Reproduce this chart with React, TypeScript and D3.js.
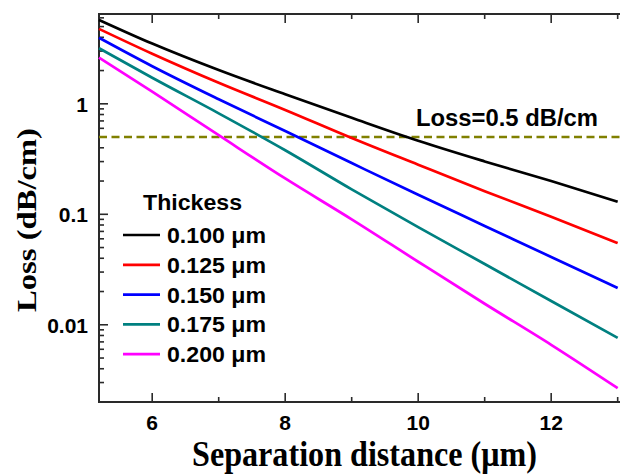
import React, { useRef, useEffect } from "react";
import * as d3 from "d3";

// separation distance (µm)
const distances = [5.2, 6, 7, 8, 9, 10, 11, 12, 13];
// loss (dB/cm) for each thickness
const loss100 = [5.75, 3.51, 2.02, 1.22, 0.747, 0.463, 0.301, 0.2, 0.13];
const loss125 = [4.77, 2.84, 1.55, 0.88, 0.49, 0.281, 0.162, 0.095, 0.0549];
const loss150 = [3.96, 2.19, 1.1, 0.567, 0.291, 0.15, 0.0785, 0.0411, 0.0215];
const loss175 = [3.19, 1.72, 0.82, 0.38, 0.168, 0.0765, 0.0355, 0.0164, 0.0076];
const loss200 = [2.62, 1.29, 0.52, 0.211, 0.09, 0.0372, 0.0155, 0.00659, 0.00267];

const seriesNames = ["0.100 \u03bcm", "0.125 \u03bcm", "0.150 \u03bcm", "0.175 \u03bcm", "0.200 \u03bcm"];
const seriesColors = ["#000000", "#ff0000", "#0000ff", "#008080", "#ff00ff"];
const seriesValues = [loss100, loss125, loss150, loss175, loss200];

const xMajorTicks = [6, 8, 10, 12];
const xMinorTicks = [7, 9, 11, 13];
const yMajorTicks = [0.01, 0.1, 1];
const yTickLabels = ["0.01", "0.1", "1"];
const lossLimit = 0.5;

const SANS = "'Liberation Sans', Arial, sans-serif";
const SERIF = "'Liberation Serif', 'Times New Roman', serif";

const LossChart = () => {
  const svgRef = useRef<SVGSVGElement>(null);

  useEffect(() => {
    const svg = d3.select(svgRef.current);
    svg.selectAll("*").remove();

    const left = 99, top = 14, bottom = 402, right = 621;

    const x = d3.scaleLinear().domain([5.2, 13.05]).range([left, right]);
    const y = d3.scaleLog().domain([0.002, 6.5]).range([bottom, top]);

    const axisColor = "#2a2a2a";

    // ticks (inward)
    const ticks = svg.append("g").attr("stroke", axisColor).attr("stroke-width", 1.6);
    xMajorTicks.concat(xMinorTicks).forEach((t) => {
      const len = xMajorTicks.includes(t) ? 9 : 5;
      ticks.append("line").attr("x1", x(t)).attr("x2", x(t)).attr("y1", bottom).attr("y2", bottom - len);
      ticks.append("line").attr("x1", x(t)).attr("x2", x(t)).attr("y1", top).attr("y2", top + len);
    });
    y.ticks().forEach((t) => {
      const major = yMajorTicks.some((m) => Math.abs(m - t) < 1e-9);
      const len = major ? 9 : 5;
      ticks.append("line").attr("x1", left).attr("x2", left + len).attr("y1", y(t)).attr("y2", y(t));
    });

    // frame
    svg
      .append("path")
      .attr("d", `M${right},${top}H${left}V${bottom}H${right}`)
      .attr("fill", "none")
      .attr("stroke", axisColor)
      .attr("stroke-width", 2);

    // tick labels
    svg
      .append("g")
      .selectAll("text")
      .data(xMajorTicks)
      .join("text")
      .attr("x", (d) => x(d))
      .attr("y", 430)
      .attr("text-anchor", "middle")
      .style("font-family", SANS)
      .style("font-weight", "bold")
      .style("font-size", "21px")
      .text((d) => d);

    svg
      .append("g")
      .selectAll("text")
      .data(yMajorTicks)
      .join("text")
      .attr("x", 88)
      .attr("y", (d) => y(d) + 8)
      .attr("text-anchor", "end")
      .style("font-family", SANS)
      .style("font-weight", "bold")
      .style("font-size", "21px")
      .text((d, i) => yTickLabels[i]);

    // threshold line
    svg
      .append("line")
      .attr("x1", left)
      .attr("x2", right)
      .attr("y1", y(lossLimit))
      .attr("y2", y(lossLimit))
      .attr("stroke", "#808000")
      .attr("stroke-width", 2.6)
      .attr("stroke-dasharray", "8,4.5");

    svg
      .append("text")
      .attr("x", 416)
      .attr("y", 126)
      .style("font-family", SANS)
      .style("font-weight", "bold")
      .style("font-size", "23px")
      .attr("textLength", 182)
      .attr("lengthAdjust", "spacingAndGlyphs")
      .text("Loss=0.5 dB/cm");

    // curves
    const line = d3
      .line<number>()
      .x((d, i) => x(distances[i]))
      .y((d) => y(d))
      .curve(d3.curveMonotoneX);

    svg
      .append("g")
      .selectAll("path")
      .data(seriesValues)
      .join("path")
      .attr("d", (d) => line(d))
      .attr("fill", "none")
      .attr("stroke", (d, i) => seriesColors[i])
      .attr("stroke-width", 2.7);

    // legend
    svg
      .append("text")
      .attr("x", 143)
      .attr("y", 210)
      .style("font-family", SANS)
      .style("font-weight", "bold")
      .style("font-size", "22px")
      .attr("textLength", 99)
      .attr("lengthAdjust", "spacingAndGlyphs")
      .text("Thickess");

    const legend = svg
      .append("g")
      .selectAll("g")
      .data(seriesNames)
      .join("g")
      .attr("transform", (d, i) => `translate(0, ${235 + i * 29.8})`);

    legend
      .append("line")
      .attr("x1", 123)
      .attr("x2", 160)
      .attr("stroke", (d, i) => seriesColors[i])
      .attr("stroke-width", 2.7);

    legend
      .append("text")
      .attr("x", 167)
      .attr("y", 8)
      .style("font-family", SANS)
      .style("font-weight", "bold")
      .style("font-size", "22px")
      .attr("textLength", 99)
      .attr("lengthAdjust", "spacingAndGlyphs")
      .text((d) => d);

    // axis titles
    svg
      .append("text")
      .attr("transform", "translate(36, 220) rotate(-90)")
      .attr("text-anchor", "middle")
      .style("font-family", SERIF)
      .style("font-weight", "bold")
      .style("font-size", "28px")
      .attr("textLength", 184)
      .attr("lengthAdjust", "spacingAndGlyphs")
      .text("Loss (dB/cm)");

    svg
      .append("text")
      .attr("x", 192)
      .attr("y", 466)
      .style("font-family", SERIF)
      .style("font-weight", "bold")
      .style("font-size", "36px")
      .attr("textLength", 345)
      .attr("lengthAdjust", "spacingAndGlyphs")
      .text("Separation distance (\u03bcm)");
  }, []);

  return (
    <svg
      ref={svgRef}
      width={620}
      height={475}
      style={{ position: "absolute", left: 0, top: 0, background: "#ffffff" }}
    ></svg>
  );
};

export default function App() {
  return <LossChart />;
}
